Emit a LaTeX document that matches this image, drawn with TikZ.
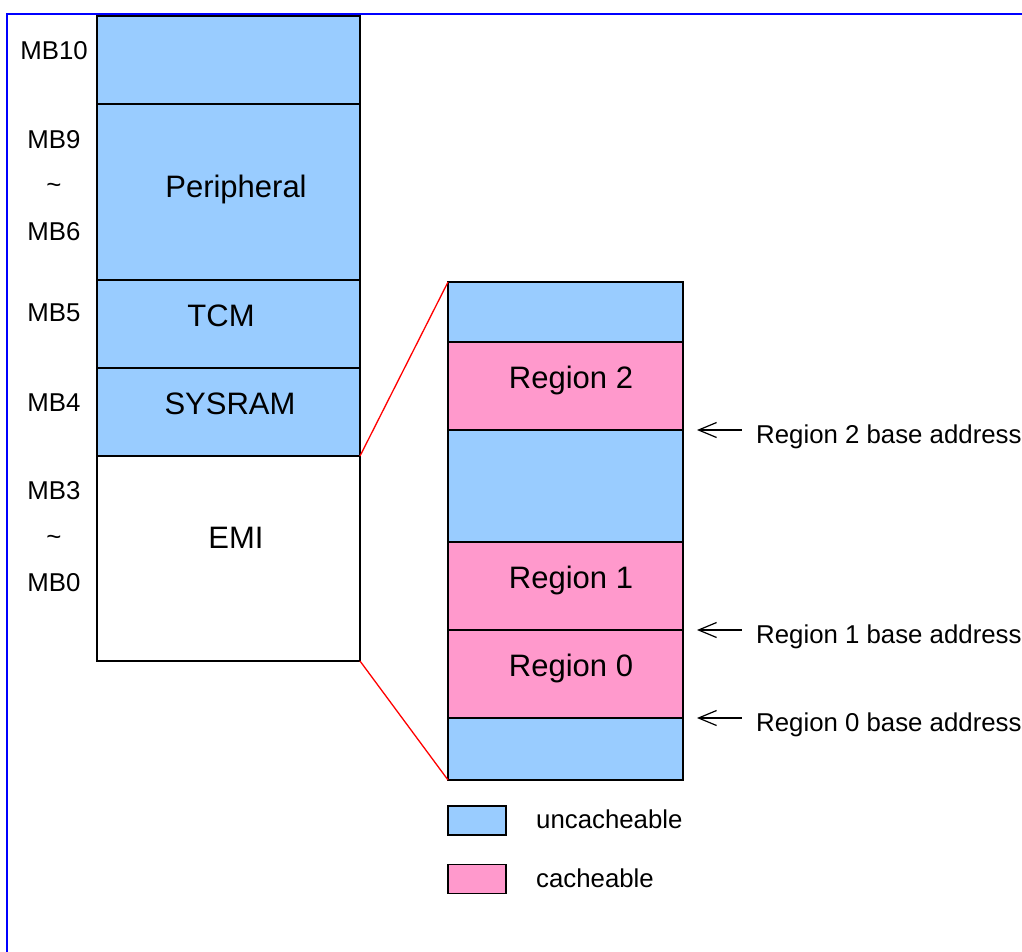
\documentclass[tikz,border=0pt]{standalone}
\usepackage{fontspec}
\setmainfont{Liberation Sans}
\usetikzlibrary{arrows.meta}
\definecolor{ublue}{HTML}{99CCFF}
\definecolor{cpink}{HTML}{FF99CC}
\begin{document}
\begin{tikzpicture}[x=1pt,y=-1pt,
  box/.style={draw=black,line width=1.5pt,inner sep=0pt,outer sep=0pt},
  lcol/.style={box,minimum width=263pt},
  rcol/.style={box,minimum width=235pt},
  unc/.style={fill=ublue},
  cac/.style={fill=cpink},
  small/.style={inner sep=0pt,anchor=base,font=\fontsize{25.8}{30}\selectfont},
  big/.style={inner sep=0pt,anchor=base,font=\fontsize{31}{36}\selectfont},
  zoomline/.style={draw=red,line width=1.3pt},
  arr/.style={line width=1.2pt,{Straight Barb[length=18pt,width=15pt]}-},
  frame/.style={draw=blue,line width=2pt}
]
\useasboundingbox (0,0) rectangle (1022,951);
% frame
\draw[frame] (1030,14) -- (7,14) -- (7,960);
% left column
\node[lcol,unc,minimum height=88pt]  (mb10) at (228.5,60) {};
\node[lcol,unc,minimum height=176pt] (per)  at (228.5,192) {};
\node[lcol,unc,minimum height=88pt]  (tcm)  at (228.5,324) {};
\node[lcol,unc,minimum height=88pt]  (sys)  at (228.5,412) {};
\node[lcol,fill=white,minimum height=205pt] (emi) at (228.5,558.5) {};
\node[big] (tper) at (236,197) {Peripheral};
\node[big] (ttcm) at (221,326) {TCM};
\node[big] (tsys) at (230,414) {SYSRAM};
\node[big] (temi) at (236,548) {EMI};
% side labels
\node[small] (l10) at (54,59) {MB10};
\node[small] (l9)  at (54,148) {MB9};
\node[small] (lt1) at (54,193) {\char`~};
\node[small] (l6)  at (54,240) {MB6};
\node[small] (l5)  at (54,321) {MB5};
\node[small] (l4)  at (54,411) {MB4};
\node[small] (l3)  at (54,499.5) {MB3};
\node[small] (lt2) at (54,545) {\char`~};
\node[small] (l0)  at (54,591) {MB0};
% right column
\node[rcol,unc,minimum height=60pt] (b3) at (565.5,312) {};
\node[rcol,cac,minimum height=88pt] (r2) at (565.5,386) {};
\node[rcol,unc,minimum height=112pt] (b2) at (565.5,486) {};
\node[rcol,cac,minimum height=88pt] (r1) at (565.5,586) {};
\node[rcol,cac,minimum height=88pt] (r0) at (565.5,674) {};
\node[rcol,unc,minimum height=62pt] (b0) at (565.5,749) {};
\node[big] (tr2) at (571,388) {Region 2};
\node[big] (tr1) at (571,588) {Region 1};
\node[big] (tr0) at (571,676) {Region 0};
% zoom lines
\draw[zoomline] (emi.north east) -- (b3.north west);
\draw[zoomline] (emi.south east) -- (b0.south west);
% base address arrows
\coordinate (a2) at ([xshift=14pt]r2.south east);
\coordinate (a1) at ([xshift=14pt]r1.south east);
\coordinate (a0) at ([xshift=14pt]r0.south east);
\node[small,anchor=base west] (t2) at (756,443) {Region 2 base address};
\node[small,anchor=base west] (t1) at (756,643) {Region 1 base address};
\node[small,anchor=base west] (t0) at (756,731.5) {Region 0 base address};
\draw[arr] (a2) -- ++(45,0);
\draw[arr] (a1) -- ++(45,0);
\draw[arr] (a0) -- ++(45,0);
% legend
\node[box,unc,minimum width=58pt,minimum height=29pt] (lgu) at (477,820.5) {};
\node[box,cac,minimum width=58pt,minimum height=29pt] (lgc) at (477,879) {};
\node[small,anchor=base west] (tlu) at (536,828) {uncacheable};
\node[small,anchor=base west] (tlc) at (536,887) {cacheable};
\end{tikzpicture}
\end{document}
